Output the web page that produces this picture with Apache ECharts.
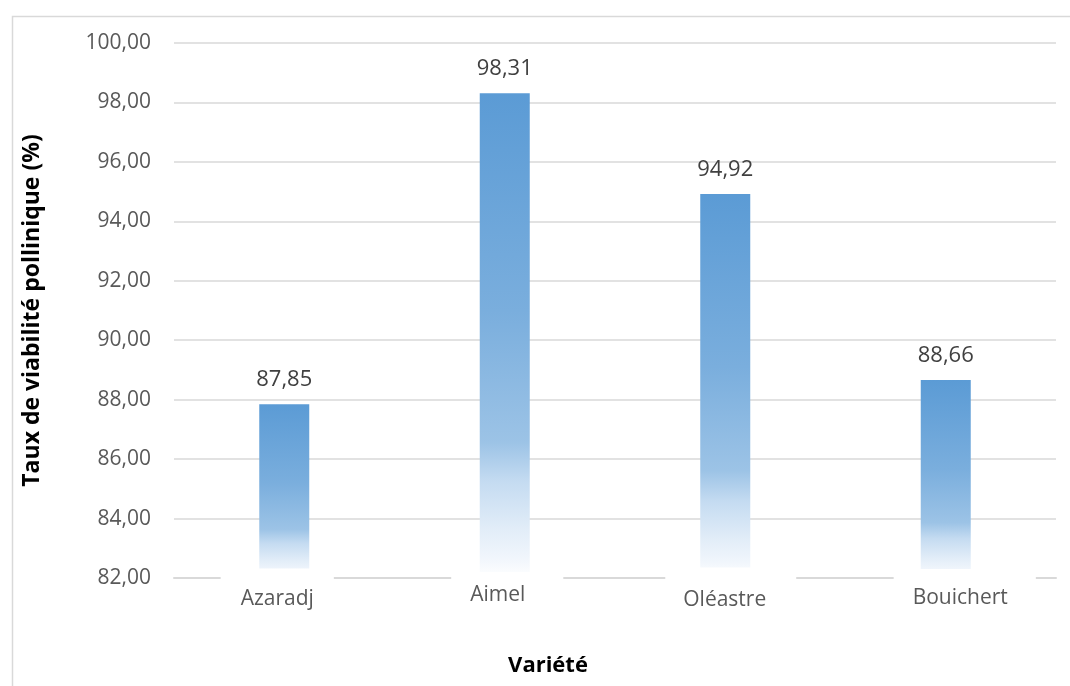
<!DOCTYPE html>
<html>
<head>
<meta charset="utf-8">
<script src="https://cdn.jsdelivr.net/npm/echarts@6/dist/echarts.min.js"></script>
<style>
  html, body { margin: 0; padding: 0; background: #fff; }
  #chart { width: 1070px; height: 686px; }
</style>
</head>
<body>
<div id="chart"></div>
<script>
// Pollen viability per olive variety
const categories = ['Azaradj', 'Aimel', 'Oléastre', 'Bouichert'];
const viability = [87.85, 98.31, 94.92, 88.66];
const yMin = 82;
const yMax = 100;
const yStep = 2;

const FONT = '"Open Sans", "Noto Sans", sans-serif';

// Per-label box tweaks: white box that interrupts the axis line under each label
const labelBoxes = [
  { shiftL: 0,  shiftR: 14, pt: 20, pl: 20, pr: 20 },
  { shiftL: 5,  shiftR: 0,  pt: 13, pl: 19, pr: 38 },
  { shiftL: 11, shiftR: 0,  pt: 22, pl: 18, pr: 30 },
  { shiftL: 38, shiftR: 0,  pt: 19, pl: 19, pr: 28 }
];

const rich = {};
labelBoxes.forEach((b, i) => {
  rich['t' + i] = {
    fontFamily: FONT, fontSize: 21, color: '#595959',
    backgroundColor: '#fff',
    lineHeight: 22,
    padding: [b.pt, b.pr, 4, b.pl]
  };
  rich['l' + i] = { width: b.shiftL, height: 2, lineHeight: 2 };
  rich['r' + i] = { width: b.shiftR, height: 2, lineHeight: 2 };
});

const barGradient = new echarts.graphic.LinearGradient(0, 0, 0, 1, [
  { offset: 0, color: '#5b9bd5' },
  { offset: 0.45, color: '#7aaedd' },
  { offset: 0.72, color: '#9cc3e6' },
  { offset: 0.8, color: '#c4dbf1' },
  { offset: 0.9, color: '#e2edf8' },
  { offset: 0.96, color: '#f1f6fc' },
  { offset: 1, color: '#ffffff' }
]);

const chart = echarts.init(document.getElementById('chart'), null, { renderer: 'canvas' });

chart.setOption({
  animation: false,
  backgroundColor: '#fff',
  graphic: [{
    type: 'rect',
    left: 10, top: 14,
    shape: { width: 1100, height: 700 },
    style: { fill: 'none', stroke: '#d9d9d9', lineWidth: 1.5 },
    silent: true
  }],
  grid: { left: 174, right: 14, top: 43, bottom: 108 },
  xAxis: {
    type: 'category',
    data: categories,
    z: 3,
    name: 'Variété',
    nameLocation: 'middle',
    nameGap: 77,
    nameTextStyle: {
      fontFamily: FONT, fontSize: 22, fontWeight: 'bold', color: '#000',
      padding: [0, 134, 0, 0]
    },
    axisLine: { show: true, lineStyle: { color: '#d9d9d9', width: 2 } },
    axisTick: { show: false },
    axisLabel: {
      margin: 2,
      interval: 0,
      formatter: (v, i) => {
        let s = '';
        if (labelBoxes[i].shiftL) s += '{l' + i + '|}';
        s += '{t' + i + '|' + v + '}';
        if (labelBoxes[i].shiftR) s += '{r' + i + '|}';
        return s;
      },
      rich: rich
    },
    splitLine: { show: false }
  },
  yAxis: {
    type: 'value',
    min: yMin,
    max: yMax,
    interval: yStep,
    name: 'Taux de viabilité pollinique (%)',
    nameLocation: 'middle',
    nameGap: 130,
    nameTextStyle: { fontFamily: FONT, fontSize: 23, fontWeight: 'bold', color: '#000' },
    axisLine: { show: false },
    axisTick: { show: false },
    axisLabel: {
      margin: 23,
      fontFamily: FONT,
      fontSize: 21,
      color: '#595959',
      formatter: v => v.toFixed(2).replace('.', ',')
    },
    splitLine: { show: true, showMinLine: false, lineStyle: { color: '#d9d9d9', width: 1.5 } }
  },
  series: [{
    type: 'bar',
    data: viability,
    barWidth: 50,
    itemStyle: { color: barGradient },
    label: {
      show: true,
      position: 'top',
      distance: 13,
      fontFamily: FONT,
      fontSize: 22,
      color: '#404040',
      formatter: p => p.value.toFixed(2).replace('.', ',')
    }
  }]
});
</script>
</body>
</html>
